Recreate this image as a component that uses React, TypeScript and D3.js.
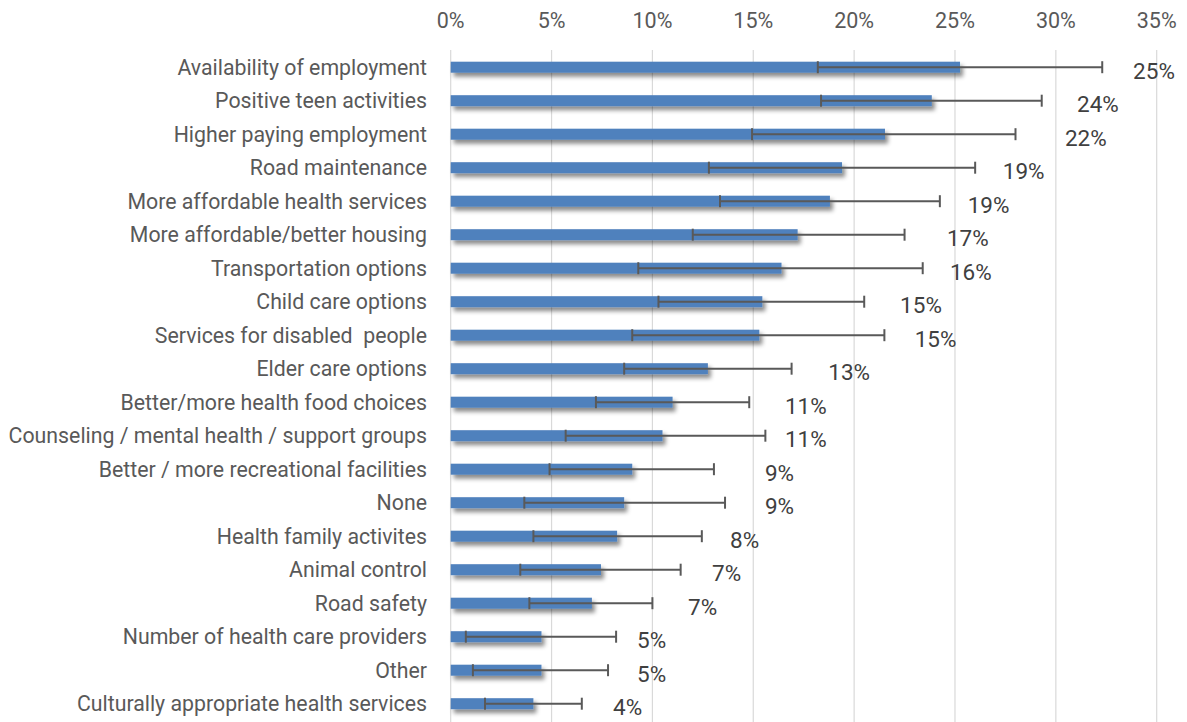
import React from "react";
import * as d3 from "d3";

const categories = [
  "Availability of employment",
  "Positive teen activities",
  "Higher paying employment",
  "Road maintenance",
  "More affordable health services",
  "More affordable/better housing",
  "Transportation options",
  "Child care options",
  "Services for disabled  people",
  "Elder care options",
  "Better/more health food choices",
  "Counseling / mental health / support groups",
  "Better / more recreational facilities",
  "None",
  "Health family activites",
  "Animal control",
  "Road safety",
  "Number of health care providers",
  "Other",
  "Culturally appropriate health services",
];
const values = [25.25, 23.85, 21.53, 19.4, 18.8, 17.2, 16.4, 15.45, 15.3, 12.75, 11.0, 10.5, 9.0, 8.6, 8.25, 7.45, 7.0, 4.5, 4.5, 4.1];
const errLow = [18.2, 18.36, 14.94, 12.8, 13.35, 12.0, 9.3, 10.3, 9.0, 8.6, 7.2, 5.7, 4.9, 3.65, 4.1, 3.45, 3.9, 0.75, 1.1, 1.7];
const errHigh = [32.3, 29.3, 28.0, 26.0, 24.25, 22.5, 23.4, 20.5, 21.5, 16.9, 14.8, 15.6, 13.05, 13.6, 12.45, 11.4, 10.0, 8.2, 7.8, 6.5];
const dataLabels = ["25%", "24%", "22%", "19%", "19%", "17%", "16%", "15%", "15%", "13%", "11%", "11%", "9%", "9%", "8%", "7%", "7%", "5%", "5%", "4%"];
const labelAt = [33.83, 31.05, 30.45, 27.37, 25.63, 24.6, 24.75, 22.28, 23.0, 18.72, 16.57, 16.57, 15.58, 15.58, 13.85, 12.96, 11.77, 9.24, 9.24, 8.05];
const ticks = [0, 5, 10, 15, 20, 25, 30, 35];

const W = 1187;
const H = 722;

export default function App() {
  const x = d3.scaleLinear().domain([0, 35]).range([450.7, 1156.7]);
  const y = d3.scalePoint<string>().domain(categories).range([50.45, 720.45]).padding(0.5);
  const barH = 11;
  const capH = 12;
  const font = "Roboto, 'Open Sans', sans-serif";
  return (
    <svg width={W} height={H} style={{ position: "absolute", left: 0, top: 0, background: "#fff" }}>
      <defs>
        <filter id="shadow" x="-5%" y="-100%" width="115%" height="350%">
          <feDropShadow dx="3" dy="4" stdDeviation="2" floodColor="#000" floodOpacity="0.45" />
        </filter>
      </defs>
      {ticks.map((t) => (
        <g key={t}>
          <line x1={x(t)} x2={x(t)} y1={50} y2={H} stroke="#d9d9d9" strokeWidth={1.2} />
          <text x={x(t)} y={27.5} textAnchor="middle" fontFamily={font} fontSize={21.5} fill="#595959">
            {t}%
          </text>
        </g>
      ))}
      {categories.map((c, i) => {
        const cy = y(c) as number;
        return (
          <g key={c}>
            <text x={427} y={cy + 7.5} textAnchor="end" fontFamily={font} fontSize={21.3} fill="#595959" style={{ whiteSpace: "pre" }}>
              {c}
            </text>
            <rect x={x(0)} y={cy - barH / 2} width={x(values[i]) - x(0)} height={barH} fill="#4f81bd" filter="url(#shadow)" />
            <g stroke="#595959" strokeWidth={2}>
              <line x1={x(errLow[i])} x2={x(errHigh[i])} y1={cy} y2={cy} />
              <line x1={x(errLow[i])} x2={x(errLow[i])} y1={cy - capH / 2} y2={cy + capH / 2} />
              <line x1={x(errHigh[i])} x2={x(errHigh[i])} y1={cy - capH / 2} y2={cy + capH / 2} />
            </g>
            <text x={x(labelAt[i])} y={cy + 11.5} textAnchor="start" fontFamily={font} fontSize={22.5} fill="#404040">
              {dataLabels[i]}
            </text>
          </g>
        );
      })}
    </svg>
  );
}
